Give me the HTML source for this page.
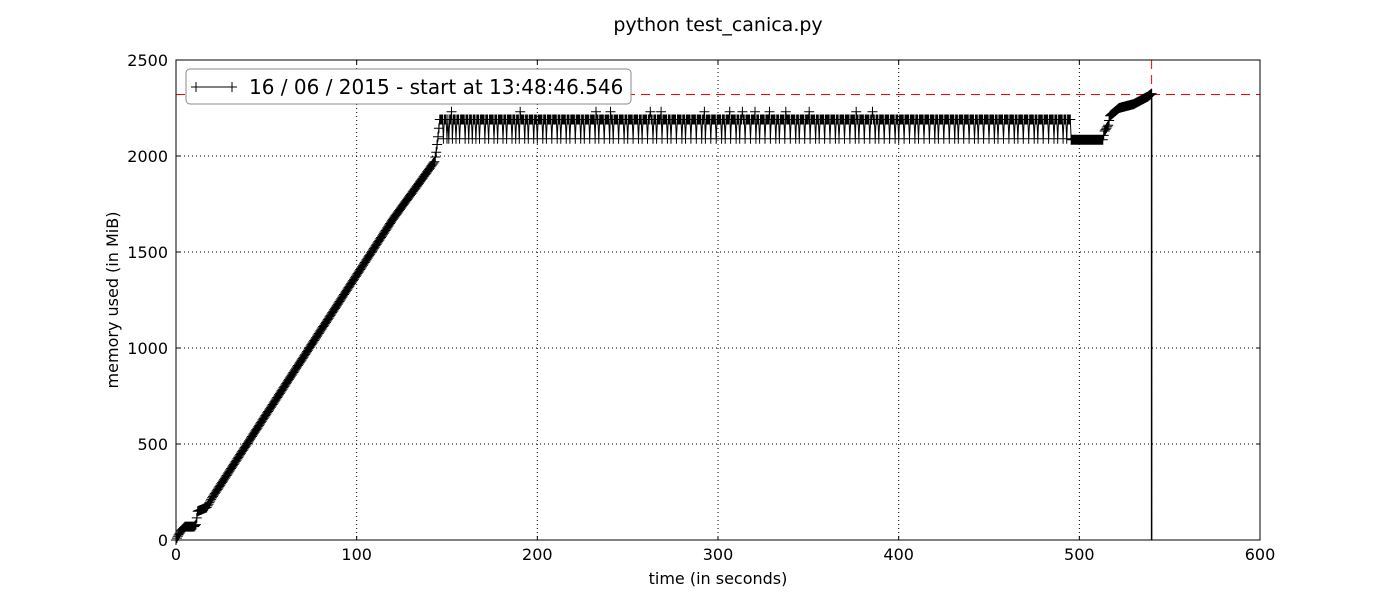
<!DOCTYPE html>
<html><head><meta charset="utf-8"><style>
body{margin:0;background:#fff;}
svg{display:block;font-family:"DejaVu Sans","Liberation Sans",sans-serif;}
</style></head><body>
<svg id="chart" width="1400" height="600" viewBox="0 0 1400 600">
<rect x="0" y="0" width="1400" height="600" fill="#fff"/>
<text x="718" y="31" font-size="19" text-anchor="middle">python test_canica.py</text>
<g id="grid"></g>
<g id="refs"></g>
<g id="series"></g>
<rect x="176" y="60" width="1084" height="480" fill="none" stroke="#000" stroke-width="1"/>
<g id="ticks"></g>
<text x="718" y="584" font-size="16" text-anchor="middle">time (in seconds)</text>
<text transform="translate(118,300) rotate(-90)" font-size="16" text-anchor="middle">memory used (in MiB)</text>
<g>
<rect x="186" y="69" width="445" height="35" rx="4" fill="#fff" stroke="#888" stroke-width="1"/>
<line x1="196" y1="87" x2="232" y2="87" stroke="#000"/>
<path d="M196 82V92M191 87H201M232 82V92M227 87H237" stroke="#000"/>
<text x="249" y="94" font-size="20">16 / 06 / 2015 - start at 13:48:46.546</text>
</g>
</svg>
<script>
const xTicks=[0,100,200,300,400,500,600];
const yTicks=[0,500,1000,1500,2000,2500];
const keyTimes=[0,1,3,5,10,11,12,17,20,40,60,80,100,120,140,143,144,145,146,495,495.5,513,514,516,517,522,530,538,540];
const keyValues=[0,20,50,70,70,80,150,170,220,510,800,1090,1380,1670,1930,1970,2020,2100,2190,2190,2085,2085,2130,2160,2210,2250,2270,2310,2325];
const dipTimes=[148,150,151,153,155,157,160,162,164,166,168,171,173,176,178,181,183,186,188,190,193,195,198,200,203,205,208,211,213,216,218,221,224,226,229,232,234,237,240,242,245,248,250,253,256,258,261,264,266,269,272,274,277,280,282,285,288,291,293,296,299,302,304,307,310,312,315,318,321,323,326,329,332,334,337,340,343,345,348,351,354,356,359,362,365,367,370,373,376,378,381,384,387,389,392,395,398,400,403,406,409,411,414,417,420,422,425,428,431,433,436,439,442,444,447,450,453,455,458,461,464,466,469,472,475,477,480,483,486,488,491,493];
const dipValue=2090;
const spikeTimes=[152,190,232,240,262,268,292,306,313,320,328,337,350,376,385];
const spikeValue=2230;
const peakValue=2325, peakTime=540;
const NS='http://www.w3.org/2000/svg';
const x=t=>176+t/600*1084, y=v=>540-v/2500*480;
function mk(tag,attrs,parent){const e=document.createElementNS(NS,tag);for(const k in attrs)e.setAttribute(k,attrs[k]);parent.appendChild(e);return e;}
const grid=document.getElementById('grid'),ticks=document.getElementById('ticks');
xTicks.forEach(t=>{
 if(t>0&&t<600){const g=mk('line',{x1:x(t),x2:x(t),y1:60,y2:540,stroke:'#000','stroke-dasharray':'1,3'},grid);
 
 }
 const l=mk('path',{d:`M${x(t)} 540v-4M${x(t)} 60v4`,stroke:'#000'},ticks);
 
 
 const tx=mk('text',{x:x(t),y:560,'font-size':16,'text-anchor':'middle'},ticks);tx.textContent=t;
 
 
});
yTicks.forEach(v=>{
 if(v>0&&v<2500){const g=mk('line',{x1:176,x2:1260,y1:y(v),y2:y(v),stroke:'#000','stroke-dasharray':'1,3'},grid);
 
 }
 const l=mk('path',{d:`M176 ${y(v)}h4M1260 ${y(v)}h-4`,stroke:'#000'},ticks);
 
 
 const tx=mk('text',{x:168,y:y(v)+6,'font-size':16,'text-anchor':'end'},ticks);tx.textContent=v;
 
 
});
function valAt(t){for(let i=1;i<keyTimes.length;i++){if(t<=keyTimes[i]){const a=keyTimes[i-1],b=keyTimes[i];return keyValues[i-1]+(keyValues[i]-keyValues[i-1])*(t-a)/(b-a);}}return keyValues[keyValues.length-1];}
const step=0.5;
const pts=[];
const end=keyTimes[keyTimes.length-1];
for(let k=0;k<=end/step;k++){const t=k*step;pts.push([t,valAt(t)]);}
dipTimes.forEach(d=>{const i=Math.round(d/step);if(pts[i])pts[i][1]=dipValue;});
spikeTimes.forEach(d=>{const i=Math.round(d/step)+1;if(pts[i])pts[i][1]=spikeValue;});
pts.push([end,0]);
const s=document.getElementById('series');
let d='',m='';
pts.forEach((p,i)=>{const px=x(p[0]).toFixed(1),py=y(p[1]).toFixed(1);d+=(i?'L':'M')+px+' '+py;if(i<pts.length-1)m+=`M${px} ${(+py-5).toFixed(1)}v10M${(+px-5).toFixed(1)} ${py}h10`;});
const line=mk('path',{d:d,fill:'none',stroke:'#000','stroke-width':1},s);


const mks=mk('path',{d:m,fill:'none',stroke:'#000','stroke-width':1},s);


const drop=mk('line',{x1:x(peakTime),x2:x(peakTime),y1:y(peakValue),y2:540,stroke:'#000','stroke-width':1.5},s);


const r=document.getElementById('refs');
const h=mk('line',{x1:176,x2:1260,y1:Math.round(y(peakValue))+0.5,y2:Math.round(y(peakValue))+0.5,stroke:'#f00','stroke-dasharray':'9,6'},r);


const v=mk('line',{x1:x(peakTime),x2:x(peakTime),y1:60,y2:540,stroke:'#f00','stroke-dasharray':'9,6'},r);


</script>
</body></html>
